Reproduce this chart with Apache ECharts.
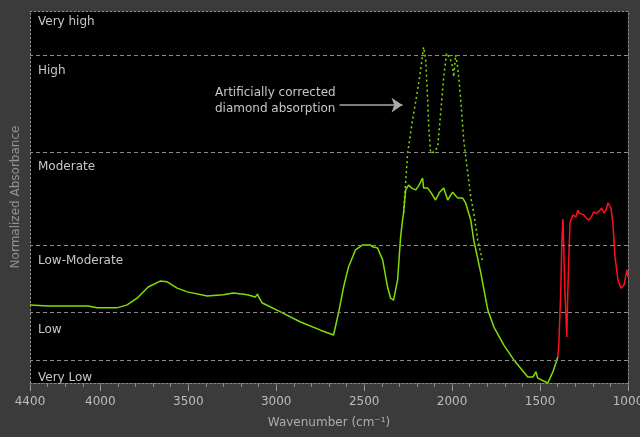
<!DOCTYPE html>
<html><head><meta charset="utf-8">
<script src="https://cdn.jsdelivr.net/npm/echarts@6/dist/echarts.min.js"></script>
<style>html,body{margin:0;padding:0;background:#3b3b3b;}#c{width:640px;height:437px;}</style>
</head><body><div id="c"></div>
<script>
// Absorbance band names (bottom to top) and their edges on a 0..1 normalized scale
const bandNames = ['Very Low', 'Low', 'Low-Moderate', 'Moderate', 'High', 'Very high'];
const bandEdges = [0, 0.057, 0.186, 0.371, 0.624, 0.882, 1];

// Measured spectrum (green) [wavenumber, normalized absorbance]
const spectrumGreen = [
  [4400,0.210],[4297,0.207],[4070,0.207],[4018,0.202],[3905,0.202],[3848,0.210],[3791,0.228],
  [3728,0.258],[3660,0.274],[3620,0.272],[3563,0.255],[3506,0.245],[3392,0.234],[3301,0.237],
  [3244,0.242],[3164,0.237],[3119,0.231],[3107,0.239],[3096,0.228],[3079,0.215],[2976,0.191],
  [2862,0.164],[2748,0.142],[2674,0.129],[2646,0.188],[2617,0.258],[2589,0.312],[2549,0.358],
  [2509,0.371],[2464,0.371],[2452,0.366],[2424,0.363],[2395,0.331],[2367,0.258],[2350,0.228],
  [2333,0.223],[2310,0.277],[2293,0.392],[2282,0.438],[2276,0.457],[2264,0.519],[2247,0.532],
  [2230,0.524],[2207,0.519],[2190,0.530],[2168,0.551],[2162,0.524],[2139,0.524],[2122,0.513],
  [2094,0.492],[2071,0.513],[2048,0.524],[2025,0.492],[1997,0.513],[1968,0.497],[1940,0.497],
  [1923,0.484],[1906,0.457],[1894,0.438],[1877,0.384],[1837,0.296],[1797,0.196],[1763,0.151],
  [1706,0.102],[1649,0.062],[1570,0.016],[1541,0.016],[1524,0.030],[1513,0.013],[1456,0.000],
  [1427,0.030],[1410,0.054],[1399,0.070]
];

// Spectrum segment drawn in red [wavenumber, normalized absorbance]
const spectrumRed = [
  [1399,0.070],[1393,0.108],[1382,0.250],[1376,0.384],[1370,0.441],[1365,0.358],[1359,0.250],
  [1348,0.124],[1342,0.250],[1330,0.430],[1313,0.452],[1296,0.446],[1285,0.465],[1279,0.457],
  [1268,0.460],[1251,0.452],[1240,0.445],[1222,0.438],[1205,0.450],[1194,0.460],[1180,0.455],
  [1165,0.462],[1150,0.470],[1137,0.457],[1125,0.465],[1114,0.484],[1097,0.470],[1086,0.430],
  [1074,0.339],[1057,0.277],[1040,0.255],[1023,0.263],[1006,0.304],[1000,0.285]
];

// Artificially corrected diamond absorption (dotted)
const correctedDiamond = [
  [2276,0.457],[2253,0.618],[2225,0.707],[2196,0.788],[2179,0.841],[2162,0.903],[2150,0.868],
  [2139,0.761],[2133,0.688],[2122,0.618],[2105,0.621],[2082,0.634],[2065,0.726],[2048,0.823],
  [2031,0.887],[2020,0.890],[2008,0.868],[1997,0.849],[1991,0.823],[1980,0.882],[1968,0.849],
  [1951,0.761],[1934,0.653],[1911,0.565],[1894,0.500],[1877,0.457],[1854,0.384],[1826,0.325]
];

// X axis tick settings
const xMin = 1000, xMax = 4400, xMajor = 500, xMinor = 100;

const annotationLines = ['Artificially corrected', 'diamond absorption'];
const arrowFrom = [2640, 0.747], arrowTo = [2282, 0.747];

const font = 'DejaVu Sans';
const txt = '#c3c7cc';
const grid = '#8a8a8a';

const areaData = bandNames.map((n, i) => [
  { name: n, yAxis: bandEdges[i], label: { offset: i === 5 ? [8, 5] : [8, 10] } },
  { yAxis: bandEdges[i + 1] }
]);
const lineData = bandEdges.slice(1, -1).map(v => ({ yAxis: v }));

const chart = echarts.init(document.getElementById('c'));
chart.setOption({
  backgroundColor: '#3b3b3b',
  animation: false,
  grid: { left: 30, right: 12, top: 11, bottom: 54, show: true, backgroundColor: '#000', borderWidth: 0,
          outerBoundsMode: 'none', containLabel: false },
  xAxis: [
    {
      type: 'value', inverse: true, min: xMin, max: xMax, interval: xMajor, position: 'bottom',
      name: 'Wavenumber (cm⁻¹)', nameLocation: 'middle', nameGap: 34,
      nameTextStyle: { color: '#a9adb2', fontFamily: font, fontSize: 12 },
      axisLine: { show: true, lineStyle: { color: grid, type: [2, 2] } },
      axisTick: { show: true, length: 8, lineStyle: { color: '#9a9a9a' } },
      axisLabel: { color: '#b9bdc2', fontFamily: font, fontSize: 12, margin: 13, showMaxLabel: true, showMinLabel: true,
                   formatter: v => String(v) },
      splitLine: { show: false }
    },
    {
      type: 'value', inverse: true, min: xMin, max: xMax, interval: xMinor, position: 'bottom',
      axisLine: { show: false }, axisTick: { show: true, length: 4, lineStyle: { color: '#8a8a8a' } },
      axisLabel: { show: false }, splitLine: { show: false }
    },
    {
      type: 'value', inverse: true, min: xMin, max: xMax, position: 'top',
      axisLine: { show: true, lineStyle: { color: grid, type: [2, 2] } },
      axisTick: { show: false }, axisLabel: { show: false }, splitLine: { show: false }
    }
  ],
  yAxis: [
    {
      type: 'value', min: 0, max: 1, position: 'left',
      name: 'Normalized Absorbance', nameLocation: 'middle', nameGap: 8,
      nameTextStyle: { color: '#8f9398', fontFamily: font, fontSize: 12 },
      axisLine: { show: true, lineStyle: { color: grid, type: [2, 2] } },
      axisTick: { show: false }, axisLabel: { show: false }, splitLine: { show: false }
    },
    {
      type: 'value', min: 0, max: 1, position: 'right',
      axisLine: { show: true, lineStyle: { color: grid, type: [2, 2] } },
      axisTick: { show: false }, axisLabel: { show: false }, splitLine: { show: false }
    }
  ],
  series: [
    {
      type: 'line', data: [], z: 1, silent: true,
      markArea: {
        silent: true, itemStyle: { color: 'rgba(0,0,0,0)' },
        label: { show: true, position: 'insideTopLeft', distance: 0, color: txt, fontFamily: font, fontSize: 12 },
        data: areaData
      },
      markLine: {
        silent: true, symbol: 'none', label: { show: false },
        lineStyle: { color: grid, type: [4, 3], width: 1 },
        data: lineData
      }
    },
    {
      type: 'line', data: correctedDiamond, z: 3, showSymbol: false,
      lineStyle: { color: '#7fe000', width: 1.5, type: [2, 3] },
      markLine: {
        silent: true, symbol: ['none', 'arrow'], symbolSize: 11, label: { show: false },
        lineStyle: { color: '#a8a8a8', type: 'solid', width: 1.5 },
        data: [[{ coord: arrowFrom }, { coord: arrowTo }]]
      }
    },
    { type: 'line', data: spectrumGreen, z: 4, showSymbol: false, lineStyle: { color: '#7fe000', width: 1.5 } },
    { type: 'line', data: spectrumRed, z: 4, showSymbol: false, lineStyle: { color: '#ff1020', width: 1.5 } }
  ],
  graphic: [{
    type: 'text', left: 215, top: 85,
    style: { text: annotationLines.join('\n'), fill: txt, font: '12px "DejaVu Sans"', lineHeight: 16 }
  }]
});
</script></body></html>
